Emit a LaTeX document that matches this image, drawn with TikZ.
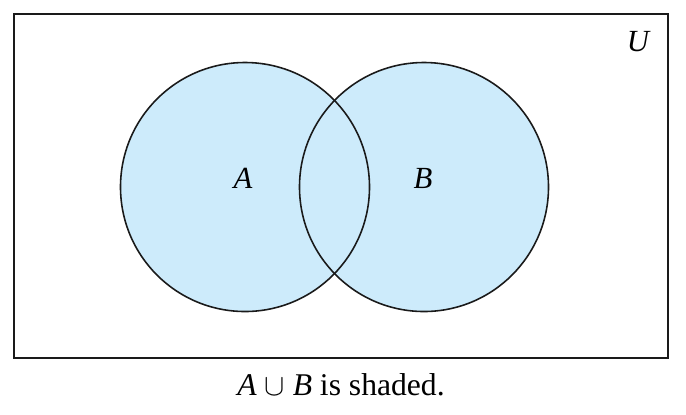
\documentclass[tikz,border=0pt]{standalone}
\usepackage{fontspec}
\setmainfont{Liberation Serif}
\usepackage{xcolor}
\usetikzlibrary{positioning}
\definecolor{setfill}{HTML}{CDEBFB}
\definecolor{linec}{HTML}{1A1A1A}

\begin{document}
\begin{tikzpicture}[x=0.02cm,y=-0.02cm,
  setc/.style={draw=linec,line width=0.9pt},
  lbl/.style={font=\fontsize{17.5}{20}\selectfont\itshape,inner sep=0pt},
]
\useasboundingbox (0,0) rectangle (686,414);
% universe
\draw[draw=linec,line width=0.9pt] (14,14) rectangle (668,358);
\node[lbl] (U) at (638,42) {U};
% both sets shaded, then outlined
\foreach \cx in {245,424} { \fill[setfill] (\cx,187) circle[radius=124.5]; }
\foreach \cx in {245,424} { \draw[setc] (\cx,187) circle[radius=124.5]; }
\node[lbl] (A) at (243,178) {A};
\node[lbl] (B) at (423,178) {B};
% caption
\node[font=\fontsize{18}{21}\selectfont,inner sep=0pt] (cap) at (341,385)
  {\textit{A} $\cup$ \textit{B} is shaded.};
\end{tikzpicture}
\end{document}
